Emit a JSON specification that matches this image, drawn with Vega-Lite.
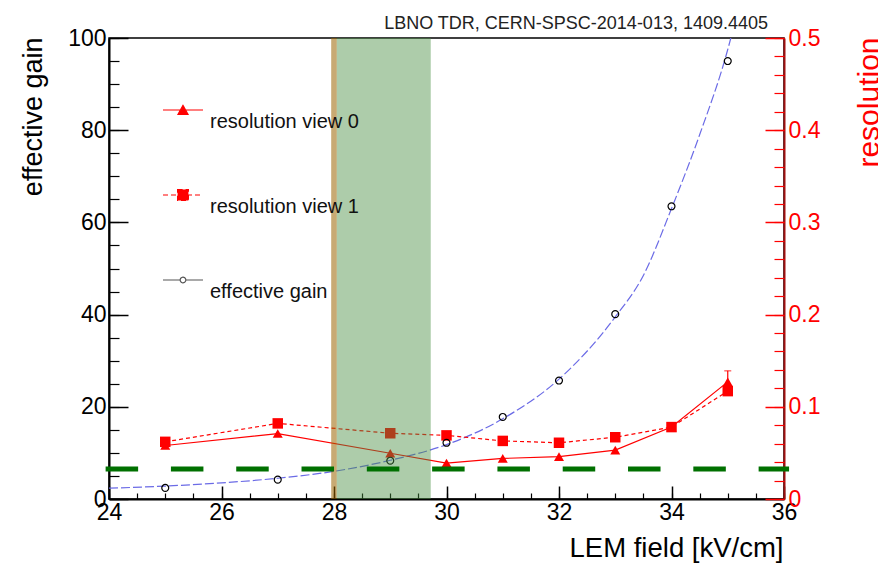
{
  "$schema": "https://vega.github.io/schema/vega-lite/v6.json",
  "width": 675,
  "height": 461,
  "autosize": {"type": "none"},
  "padding": {"left": 109, "top": 38, "right": 94, "bottom": 65},
  "background": "white",
  "title": {
    "text": "LBNO TDR, CERN-SPSC-2014-013, 1409.4405",
    "anchor": "end",
    "frame": "group",
    "font": "Liberation Sans",
    "fontSize": 18,
    "fontWeight": "normal",
    "color": "#222222",
    "baseline": "alphabetic",
    "offset": 0,
    "dx": -16,
    "dy": 20
  },
  "datasets": {
    "fit": [
      {"field": 24, "gain": 2.35},
      {"field": 25, "gain": 2.8},
      {"field": 26, "gain": 3.5},
      {"field": 27, "gain": 4.5},
      {"field": 28, "gain": 6.0},
      {"field": 29, "gain": 8.4},
      {"field": 30, "gain": 11.8},
      {"field": 31, "gain": 17.4},
      {"field": 32, "gain": 26.0},
      {"field": 33, "gain": 39.5},
      {"field": 33.5, "gain": 48.5},
      {"field": 34, "gain": 63.0},
      {"field": 34.5, "gain": 79.0},
      {"field": 35, "gain": 97.5},
      {"field": 35.2, "gain": 107}
    ],
    "gain": [
      {"field": 25, "gain": 2.4},
      {"field": 27, "gain": 4.2},
      {"field": 29, "gain": 8.3},
      {"field": 30, "gain": 12.2},
      {"field": 31, "gain": 17.8},
      {"field": 32, "gain": 25.7},
      {"field": 33, "gain": 40.1},
      {"field": 34, "gain": 63.5},
      {"field": 35, "gain": 95.0}
    ],
    "res": [
      {"field": 25, "view": "resolution view 0", "res": 0.058},
      {"field": 27, "view": "resolution view 0", "res": 0.071},
      {"field": 29, "view": "resolution view 0", "res": 0.0496},
      {"field": 30, "view": "resolution view 0", "res": 0.039},
      {"field": 31, "view": "resolution view 0", "res": 0.044},
      {"field": 32, "view": "resolution view 0", "res": 0.046},
      {"field": 33, "view": "resolution view 0", "res": 0.053},
      {"field": 34, "view": "resolution view 0", "res": 0.078},
      {"field": 35, "view": "resolution view 0", "res": 0.127},
      {"field": 25, "view": "resolution view 1", "res": 0.062},
      {"field": 27, "view": "resolution view 1", "res": 0.082},
      {"field": 29, "view": "resolution view 1", "res": 0.0713},
      {"field": 30, "view": "resolution view 1", "res": 0.069},
      {"field": 31, "view": "resolution view 1", "res": 0.063},
      {"field": 32, "view": "resolution view 1", "res": 0.061},
      {"field": 33, "view": "resolution view 1", "res": 0.067},
      {"field": 34, "view": "resolution view 1", "res": 0.078},
      {"field": 35, "view": "resolution view 1", "res": 0.117}
    ],
    "err": [
      {"field": 35, "lo": 0.112, "hi": 0.139}
    ],
    "tanBand": [{"lo": 27.95, "hi": 28.05}],
    "greenBand": [{"lo": 28.05, "hi": 29.72}],
    "threshold": [{"from": 23.94, "to": 36.09, "gain": 6.5}],
    "series": [
      {"series": "resolution view 0"},
      {"series": "resolution view 1"},
      {"series": "effective gain"}
    ]
  },
  "config": {
    "font": "Liberation Sans",
    "view": {"stroke": "black", "strokeWidth": 1.5},
    "axis": {
      "grid": false,
      "labelFont": "Liberation Sans",
      "labelFontSize": 23,
      "labelColor": "black",
      "labelFlush": false,
      "labelOverlap": false,
      "titleFont": "Liberation Sans",
      "titleFontWeight": "normal",
      "titleColor": "black",
      "domainColor": "black",
      "tickColor": "black"
    },
    "legend": {
      "orient": "none",
      "legendX": 53,
      "legendY": 51,
      "padding": 0,
      "symbolSize": 1600,
      "symbolStrokeWidth": 1.2,
      "symbolOpacity": 1,
      "labelFont": "Liberation Sans",
      "labelFontSize": 20,
      "labelColor": "#111111",
      "labelOffset": 6,
      "labelLimit": 300,
      "rowPadding": 42
    }
  },
  "resolve": {
    "scale": {"y": "independent"},
    "axis": {"x": "independent", "y": "independent"}
  },
  "layer": [
    {
      "data": {"name": "fit"},
      "mark": {"type": "line", "color": "#6b6be6", "strokeWidth": 1.2, "strokeDash": [9, 3], "interpolate": "monotone", "clip": true},
      "encoding": {
        "x": {
          "field": "field", "type": "quantitative",
          "scale": {"domain": [24, 36], "nice": false},
          "axis": {
            "orient": "bottom", "values": [24, 26, 28, 30, 32, 34, 36],
            "ticks": false, "domain": true, "domainWidth": 2, "labelPadding": 2,
            "title": "LEM field [kV/cm]", "titleFontSize": 27.5,
            "titleX": 674, "titleY": 57, "titleAlign": "right", "titleBaseline": "alphabetic", "titleAngle": 0
          }
        },
        "y": {
          "field": "gain", "type": "quantitative",
          "scale": {"domain": [0, 100], "nice": false},
          "axis": {
            "orient": "left", "values": [0, 20, 40, 60, 80, 100],
            "ticks": false, "domain": true, "domainWidth": 2, "labelPadding": 3,
            "title": "effective gain", "titleFontSize": 27,
            "titleAngle": -90, "titleAlign": "right", "titleBaseline": "alphabetic",
            "titleX": -68, "titleY": -1
          }
        }
      }
    },
    {
      "data": {"name": "res"},
      "transform": [{"filter": "datum.view === 'resolution view 0'"}],
      "mark": {"type": "line", "color": "#ff0000", "strokeWidth": 1.2},
      "encoding": {
        "x": {
          "field": "field", "type": "quantitative",
          "scale": {"domain": [24, 36], "nice": false},
          "axis": {
            "orient": "bottom",
            "values": [24, 24.5, 25, 25.5, 26, 26.5, 27, 27.5, 28, 28.5, 29, 29.5, 30, 30.5, 31, 31.5, 32, 32.5, 33, 33.5, 34, 34.5, 35, 35.5, 36],
            "labels": false, "domain": false, "tickSize": -6, "tickWidth": 1.2, "title": null
          }
        },
        "y": {
          "field": "res", "type": "quantitative",
          "scale": {"domain": [0, 0.5], "nice": false},
          "axis": {
            "orient": "right", "values": [0, 0.1, 0.2, 0.3, 0.4, 0.5], "format": "~g",
            "ticks": false, "domain": true, "domainColor": "#a01010", "domainWidth": 2,
            "labelColor": "#ff0000", "labelPadding": 4,
            "title": "resolution", "titleColor": "#ff0000", "titleFontSize": 30,
            "titleAngle": -90, "titleAlign": "right", "titleBaseline": "alphabetic",
            "titleX": 94, "titleY": -1
          }
        }
      }
    },
    {
      "data": {"name": "res"},
      "transform": [{"filter": "datum.view === 'resolution view 1'"}],
      "mark": {"type": "line", "color": "#ff0000", "strokeWidth": 1.2, "strokeDash": [4, 3]},
      "encoding": {
        "x": {"field": "field", "type": "quantitative", "scale": {"domain": [24, 36], "nice": false}, "axis": null},
        "y": {
          "field": "res", "type": "quantitative",
          "scale": {"domain": [0, 0.5], "nice": false},
          "axis": {
            "orient": "right", "values": [0, 0.1, 0.2, 0.3, 0.4, 0.5],
            "labels": false, "domain": false, "tickSize": -19, "tickWidth": 1.5, "tickColor": "#ff0000", "title": null
          }
        }
      }
    },
    {
      "data": {"name": "err"},
      "mark": {"type": "rule", "color": "#ff0000", "strokeWidth": 1.2},
      "encoding": {
        "x": {"field": "field", "type": "quantitative", "scale": {"domain": [24, 36], "nice": false}, "axis": null},
        "y": {
          "field": "lo", "type": "quantitative",
          "scale": {"domain": [0, 0.5], "nice": false},
          "axis": {
            "orient": "right",
            "values": [0, 0.02, 0.04, 0.06, 0.08, 0.1, 0.12, 0.14, 0.16, 0.18, 0.2, 0.22, 0.24, 0.26, 0.28, 0.3, 0.32, 0.34, 0.36, 0.38, 0.4, 0.42, 0.44, 0.46, 0.48, 0.5],
            "labels": false, "domain": false, "tickSize": -10, "tickWidth": 1.2, "tickColor": "#ff0000", "title": null
          }
        },
        "y2": {"field": "hi"}
      }
    },
    {
      "data": {"name": "err"},
      "mark": {"type": "tick", "orient": "horizontal", "color": "#ff0000", "size": 7, "thickness": 1.2},
      "encoding": {
        "x": {"field": "field", "type": "quantitative", "scale": {"domain": [24, 36], "nice": false}, "axis": null},
        "y": {"field": "hi", "type": "quantitative", "scale": {"domain": [0, 0.5], "nice": false}, "axis": null}
      }
    },
    {
      "data": {"name": "res"},
      "transform": [{"filter": "datum.view === 'resolution view 0'"}],
      "mark": {"type": "point", "shape": "triangle-up", "size": 100, "filled": true, "color": "#ff0000", "opacity": 1},
      "encoding": {
        "x": {"field": "field", "type": "quantitative", "scale": {"domain": [24, 36], "nice": false}, "axis": null},
        "y": {"field": "res", "type": "quantitative", "scale": {"domain": [0, 0.5], "nice": false}, "axis": null}
      }
    },
    {
      "data": {"name": "res"},
      "transform": [{"filter": "datum.view === 'resolution view 1'"}],
      "mark": {"type": "point", "shape": "square", "size": 110, "filled": true, "color": "#ff0000", "opacity": 1},
      "encoding": {
        "x": {"field": "field", "type": "quantitative", "scale": {"domain": [24, 36], "nice": false}, "axis": null},
        "y": {"field": "res", "type": "quantitative", "scale": {"domain": [0, 0.5], "nice": false}, "axis": null}
      }
    },
    {
      "data": {"name": "gain"},
      "mark": {"type": "point", "shape": "circle", "size": 48, "filled": false, "color": "black", "strokeWidth": 1.2, "opacity": 1},
      "encoding": {
        "x": {
          "field": "field", "type": "quantitative",
          "scale": {"domain": [24, 36], "nice": false},
          "axis": {
            "orient": "bottom", "values": [24, 26, 28, 30, 32, 34, 36],
            "labels": false, "domain": false, "tickSize": -13, "tickWidth": 1.5, "title": null
          }
        },
        "y": {
          "field": "gain", "type": "quantitative",
          "scale": {"domain": [0, 100], "nice": false},
          "axis": {
            "orient": "left", "values": [0, 20, 40, 60, 80, 100],
            "labels": false, "domain": false, "tickSize": -19, "tickWidth": 1.5, "title": null
          }
        }
      }
    },
    {
      "data": {"name": "tanBand"},
      "mark": {"type": "rect", "color": "#9b6400", "opacity": 0.55},
      "encoding": {
        "x": {"field": "lo", "type": "quantitative", "scale": {"domain": [24, 36], "nice": false}, "axis": null},
        "x2": {"field": "hi"}
      }
    },
    {
      "data": {"name": "greenBand"},
      "mark": {"type": "rect", "color": "#498e43", "opacity": 0.45},
      "encoding": {
        "x": {"field": "lo", "type": "quantitative", "scale": {"domain": [24, 36], "nice": false}, "axis": null},
        "x2": {"field": "hi"}
      }
    },
    {
      "data": {"name": "threshold"},
      "mark": {"type": "rule", "color": "#007000", "strokeWidth": 5, "strokeDash": [32.5, 32.8]},
      "encoding": {
        "x": {"field": "from", "type": "quantitative", "scale": {"domain": [24, 36], "nice": false}, "axis": null},
        "x2": {"field": "to"},
        "y": {
          "field": "gain", "type": "quantitative",
          "scale": {"domain": [0, 100], "nice": false},
          "axis": {
            "orient": "left",
            "values": [0, 5, 10, 15, 20, 25, 30, 35, 40, 45, 50, 55, 60, 65, 70, 75, 80, 85, 90, 95, 100],
            "labels": false, "domain": false, "tickSize": -10, "tickWidth": 1.2, "title": null
          }
        }
      }
    },
    {
      "data": {"name": "series"},
      "transform": [{"filter": "false"}],
      "mark": {"type": "point", "size": 1600, "strokeWidth": 1.2},
      "encoding": {
        "shape": {
          "field": "series", "type": "nominal",
          "scale": {
            "domain": ["resolution view 0", "resolution view 1", "effective gain"],
            "range": [
              "M-1,0H1M-0.25,0.22L0,-0.23L0.25,0.22Z",
              "M-1,0H1M-0.27,-0.27H0.27V0.27H-0.27Z",
              "M-1,0H-0.14M0.14,0H1M-0.14,0A0.14,0.14,0,1,0,0.14,0A0.14,0.14,0,1,0,-0.14,0"
            ]
          },
          "legend": {"title": null, "encode": {"labels": {"update": {"dy": {"value": 12}}}}}
        },
        "fill": {
          "field": "series", "type": "nominal",
          "scale": {
            "domain": ["resolution view 0", "resolution view 1", "effective gain"],
            "range": ["#ff0000", "#ff0000", "transparent"]
          },
          "legend": {"title": null, "encode": {"labels": {"update": {"dy": {"value": 12}}}}}
        },
        "stroke": {
          "field": "series", "type": "nominal",
          "scale": {
            "domain": ["resolution view 0", "resolution view 1", "effective gain"],
            "range": ["#ff0000", "#ff0000", "#555555"]
          },
          "legend": {"title": null, "encode": {"labels": {"update": {"dy": {"value": 12}}}}}
        },
        "strokeDash": {
          "field": "series", "type": "nominal",
          "scale": {
            "domain": ["resolution view 0", "resolution view 1", "effective gain"],
            "range": [[1, 0], [5, 3], [1, 0]]
          },
          "legend": {"title": null, "encode": {"labels": {"update": {"dy": {"value": 12}}}}}
        }
      }
    }
  ]
}
